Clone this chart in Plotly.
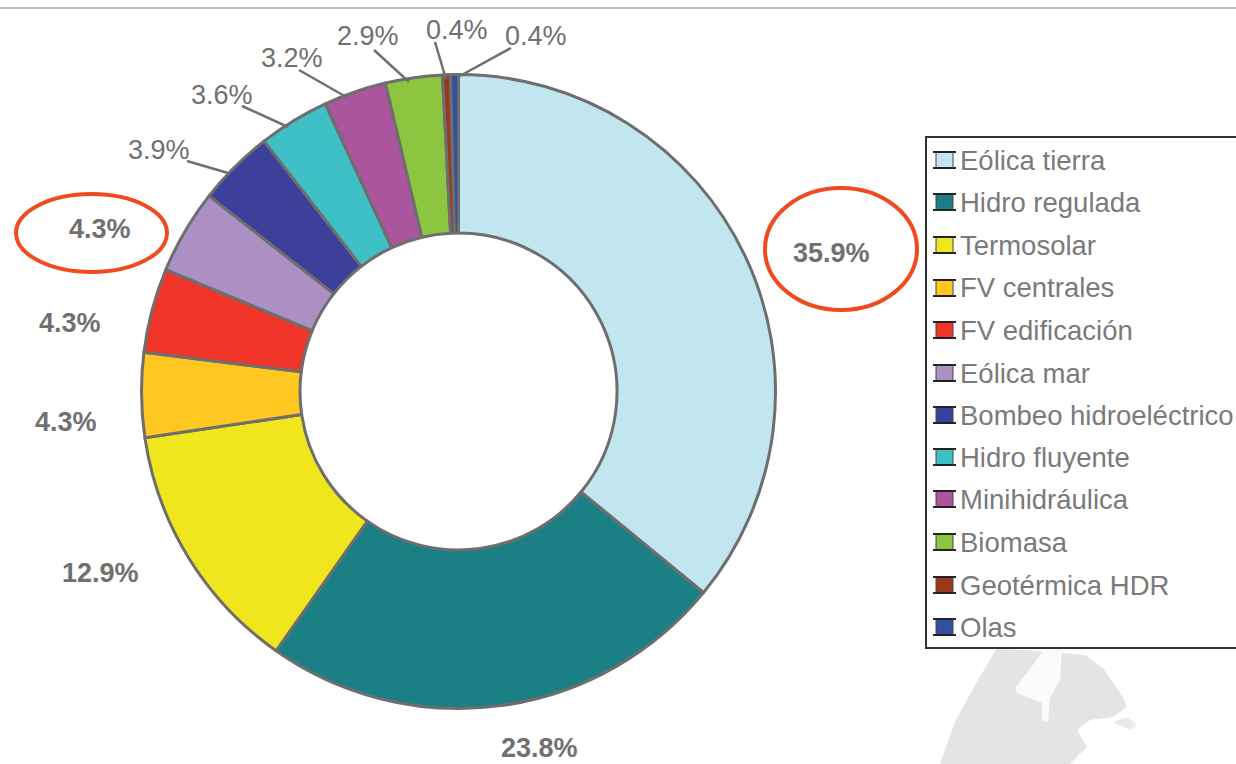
import plotly.graph_objects as go

W, H = 1236, 764

categories = ["Eólica tierra", "Hidro regulada", "Termosolar", "FV centrales", "FV edificación", "Eólica mar",
              "Bombeo hidroeléctrico", "Hidro fluyente", "Minihidráulica", "Biomasa", "Geotérmica HDR", "Olas"]
values = [35.9, 23.8, 12.9, 4.3, 4.3, 4.3, 3.9, 3.6, 3.2, 2.9, 0.4, 0.4]
colors = ["#C2E6EF", "#1B8086", "#F0E61E", "#FFC720", "#F13528", "#AC90C4",
          "#3D409A", "#3FBFC6", "#AA559E", "#8CC540", "#98391F", "#32509F"]

label_pos = [(831, 253), (539, 748), (100, 573), (66, 422), (70, 323), (100, 229),
             (159, 150), (222, 95), (292, 58), (368, 36), (457, 30), (536, 36)]
label_bold = [True, True, True, True, True, True, False, False, False, False, False, False]
leaders = [((187, 161), (228, 173)), ((242, 106), (288, 127)), ((299, 70), (348, 98)),
           ((374, 50), (409, 82)), ((435, 42), (446, 79)), ((511, 48), (458, 77))]
legend_rows = [160, 202, 245, 288, 330, 373, 415, 457, 499, 542, 585, 627]


def px(x):
    return x / W


def py(y):
    return 1 - y / H


CX, CY, R = 458.5, 391.5, 317
fig = go.Figure(go.Pie(
    labels=categories, values=values, sort=False, direction="clockwise", rotation=0,
    hole=0.5, textinfo="none", hoverinfo="label+percent", showlegend=False,
    marker=dict(colors=colors, line=dict(color="#6E6E6E", width=3)),
    domain=dict(x=[px(CX - R), px(CX + R)], y=[py(CY + R), py(CY - R)]),
))

shapes = []
annotations = []


def line(x0, y0, x1, y1, color, width):
    shapes.append(dict(type="line", xref="paper", yref="paper", x0=px(x0), y0=py(y0), x1=px(x1), y1=py(y1),
                       line=dict(color=color, width=width)))


def path(points):
    return "M " + " L ".join(f"{px(x):.5f} {py(y):.5f}" for x, y in points) + " Z"


# faint map behind the legend
map_path = [(997, 648), (1085, 655), (1103, 668), (1123, 697), (1127, 707), (1113, 717), (1090, 720), (1077, 730),
            (1087, 747), (1070, 764), (940, 764), (955, 722), (975, 685)]
lake_path = [(1045, 648), (1062, 648), (1060, 680), (1050, 698), (1048, 722), (1042, 720), (1042, 703),
             (1017, 693), (1015, 688), (1033, 665)]
island_path = [(1113, 722), (1128, 717), (1137, 725), (1130, 730)]

for pts, fill in [(map_path, "#E4E4E4"), (lake_path, "#FBFBFB"), (island_path, "#E9E9E9")]:
    shapes.append(dict(type="path", xref="paper", yref="paper", path=path(pts), fillcolor=fill,
                       line=dict(width=0), layer="below"))

# top rule
line(0, 8, W, 8, "#BDBDBD", 2)

# leader lines
for a, b in leaders:
    line(a[0], a[1], b[0], b[1], "#707070", 2.5)

# value labels
for v, (x, y), bold in zip(values, label_pos, label_bold):
    t = f"{v}%"
    annotations.append(dict(xref="paper", yref="paper", x=px(x), y=py(y), showarrow=False,
                            xanchor="center", yanchor="middle",
                            text=f"<b>{t}</b>" if bold else t,
                            font=dict(family="Liberation Sans", size=27, color="#707070")))

# highlight ellipses
for x0, y0, x1, y1 in [(16, 194, 167, 272), (765, 188, 917, 310)]:
    shapes.append(dict(type="circle", xref="paper", yref="paper", x0=px(x0), y0=py(y0), x1=px(x1), y1=py(y1),
                       line=dict(color="#F04A20", width=4)))

# legend box
shapes.append(dict(type="rect", xref="paper", yref="paper", x0=px(926), y0=py(137), x1=px(1240), y1=py(648),
                   line=dict(color="#333333", width=2), fillcolor="#FFFFFF", layer="below"))
for name, col, y in zip(categories, colors, legend_rows):
    shapes.append(dict(type="rect", xref="paper", yref="paper", x0=px(936), y0=py(y - 8), x1=px(953), y1=py(y + 8),
                       line=dict(width=0), fillcolor=col))
    line(933, y - 8, 956, y - 8, "#222222", 2)
    line(933, y + 8, 956, y + 8, "#222222", 2)
    line(936, y - 8, 936, y + 8, "#444444", 1)
    line(953, y - 8, 953, y + 8, "#444444", 1)
    annotations.append(dict(xref="paper", yref="paper", x=px(958), y=py(y), showarrow=False,
                            xanchor="left", yanchor="middle",
                            text=name, font=dict(family="Liberation Sans", size=27.5, color="#7A7A7A")))

fig.update_layout(width=W, height=H, margin=dict(l=0, r=0, t=0, b=0), paper_bgcolor="#FFFFFF",
                  shapes=shapes, annotations=annotations)
fig.write_html("out.html", config=dict(displayModeBar=False),
               post_script="document.body.style.margin='0';document.documentElement.style.overflow='hidden';")
